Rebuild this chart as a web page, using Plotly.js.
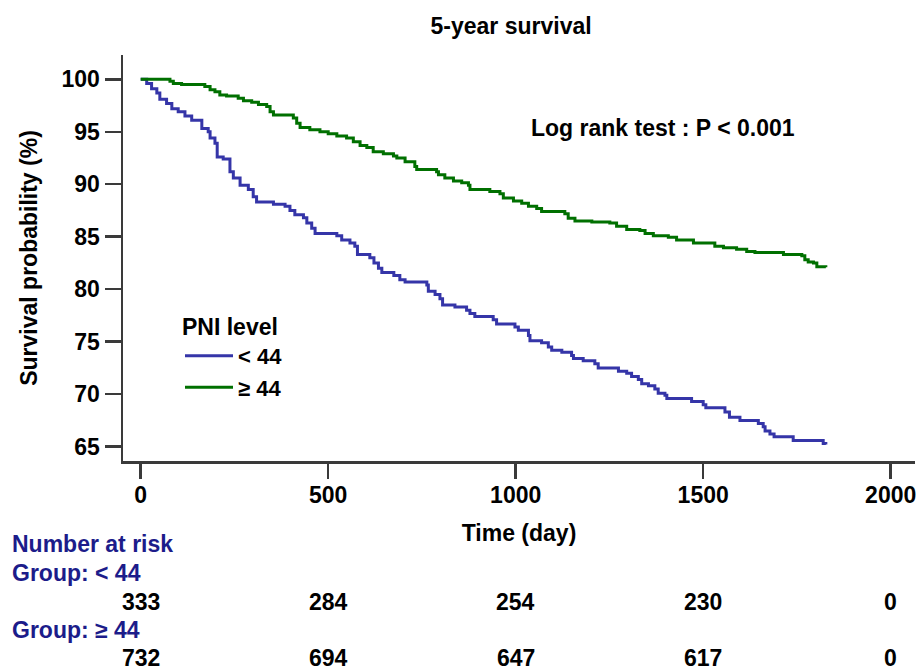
<!DOCTYPE html>
<html>
<head>
<meta charset="utf-8">
<script src="https://cdn.plot.ly/plotly-3.0.1.min.js"></script>
<style>html,body{margin:0;padding:0;background:#fff;}#chart{width:919px;height:670px;}</style>
</head>
<body>
<div id="chart"></div>
<script>
// Kaplan-Meier step points (day, survival %)
var lowTimes = [0,16,29,43,51,69,83,100,118,136,163,180,185,198,204,220,238,247,265,287,300,309,354,385,398,411,434,443,456,465,523,536,558,571,578,611,622,634,643,675,691,705,763,767,785,798,805,838,869,878,891,940,949,998,1007,1034,1038,1069,1087,1096,1123,1149,1154,1180,1211,1220,1274,1296,1309,1327,1336,1354,1371,1380,1398,1403,1469,1500,1507,1558,1570,1598,1647,1660,1665,1678,1689,1740,1820,1827];
var lowSurv = [100,99.6,99.1,98.7,98.1,97.7,97.2,96.9,96.5,96.1,95.3,95.0,94.4,93.9,92.6,92.4,91.2,90.6,89.9,89.5,88.8,88.3,88.1,87.9,87.5,87.1,86.8,86.3,85.8,85.3,85.1,84.7,84.4,84.1,83.3,83.0,82.5,82.0,81.6,81.3,80.9,80.7,80.4,79.8,79.5,79.1,78.5,78.3,78.0,77.7,77.4,77.1,76.7,76.4,76.1,75.6,75.1,74.9,74.5,74.2,74.0,73.7,73.4,73.2,72.9,72.5,72.2,72.0,71.7,71.4,71.0,70.8,70.5,70.1,69.9,69.6,69.3,69.0,68.7,68.3,67.8,67.5,67.2,66.9,66.5,66.2,65.95,65.6,65.3,65.2];

var highTimes = [0,78,87,109,171,185,198,211,229,260,274,296,314,336,345,354,407,416,425,451,478,500,523,549,567,585,603,620,647,674,683,705,731,736,789,794,811,834,856,874,878,931,958,967,994,1016,1034,1056,1069,1131,1140,1158,1203,1251,1269,1296,1331,1345,1367,1407,1429,1474,1531,1554,1589,1616,1638,1714,1763,1771,1780,1794,1803,1827];
var highSurv = [100,99.8,99.6,99.5,99.3,99.0,98.8,98.5,98.4,98.2,97.96,97.8,97.6,97.4,96.9,96.6,96.3,95.8,95.4,95.2,95.0,94.8,94.6,94.4,94.05,93.7,93.5,93.1,92.9,92.7,92.5,92.15,91.7,91.4,91.2,90.9,90.6,90.3,90.15,89.9,89.5,89.3,89.1,88.7,88.4,88.2,87.9,87.7,87.4,87.2,86.75,86.5,86.4,86.3,86.0,85.7,85.6,85.3,85.1,84.95,84.7,84.4,84.1,83.95,83.8,83.6,83.5,83.3,83.2,82.8,82.6,82.5,82.15,82.1];

var groupNames = ['< 44', '\u2265 44'];
var xTicks = [0, 500, 1000, 1500, 2000];
var yTicks = [65, 70, 75, 80, 85, 90, 95, 100];
var riskTimes = [0, 500, 1000, 1500, 2000];
var riskLow = [333, 284, 254, 230, 0];
var riskHigh = [732, 694, 647, 617, 0];

var FONT = 'Liberation Sans, Arial, sans-serif';
var FS = 23;
var BLUE = '#3535a8';
var GREEN = '#007000';
var NAVY = '#1c1c8a';
var AX = '#3a3a3a';

var traces = [
  {x: lowTimes, y: lowSurv, type: 'scatter', mode: 'lines', name: groupNames[0],
   line: {shape: 'hv', color: BLUE, width: 3}},
  {x: highTimes, y: highSurv, type: 'scatter', mode: 'lines', name: groupNames[1],
   line: {shape: 'hv', color: GREEN, width: 3}}
];

var ann = [];
ann.push({xref: 'x', yref: 'y', x: 1392, y: 95.36, text: 'Log rank test : P < 0.001', showarrow: false,
  xanchor: 'center', yanchor: 'middle', font: {family: FONT, size: FS, color: '#000', weight: 'bold'}});

function paperY(py) { return (461 - py) / 406; }
function label(text, py, color) {
  ann.push({xref: 'paper', yref: 'paper', x: (10 - 123) / 792, y: paperY(py), text: text, showarrow: false,
    xanchor: 'left', yanchor: 'middle', font: {family: FONT, size: FS, color: color, weight: 'bold'}});
}
label('Number at risk', 544, NAVY);
label('Group: ' + groupNames[0], 573, NAVY);
label('Group: ' + groupNames[1], 630, NAVY);
function riskRow(vals, py) {
  for (var i = 0; i < riskTimes.length; i++) {
    ann.push({xref: 'x', yref: 'paper', x: riskTimes[i], y: paperY(py), text: String(vals[i]), showarrow: false,
      xanchor: 'center', yanchor: 'middle', font: {family: FONT, size: FS, color: '#000', weight: 'bold'}});
  }
}
riskRow(riskLow, 602);
riskRow(riskHigh, 658);

var layout = {
  width: 919, height: 670,
  margin: {l: 123, r: 4, t: 55, b: 209, pad: 0},
  paper_bgcolor: '#fff', plot_bgcolor: '#fff',
  font: {family: FONT, color: '#000'},
  title: {text: '5-year survival', x: 0.49, xref: 'paper', xanchor: 'center', y: 1 - 26 / 670, yref: 'container', yanchor: 'middle',
    font: {family: FONT, size: FS, color: '#000', weight: 'bold'}},
  xaxis: {range: [-47.2, 2064.8], tickvals: xTicks, ticktext: xTicks.map(String), ticks: 'outside', ticklen: 15, tickwidth: 2.5, tickcolor: AX,
    ticklabelstandoff: -3,
    showline: true, linewidth: 2.5, linecolor: AX, showgrid: false, zeroline: false, fixedrange: true,
    tickfont: {family: FONT, size: FS, color: '#000', weight: 'bold'},
    title: {text: 'Time (day)', standoff: 18, font: {family: FONT, size: FS, color: '#000', weight: 'bold'}}},
  yaxis: {range: [63.64, 102.31], tickvals: yTicks, ticktext: yTicks.map(String), ticks: 'outside', ticklen: 16, tickwidth: 2.5, tickcolor: AX,
    showline: true, linewidth: 2.5, linecolor: AX, showgrid: false, zeroline: false, fixedrange: true,
    tickfont: {family: FONT, size: FS, color: '#000', weight: 'bold'},
    title: {text: 'Survival probability (%)', standoff: 18, font: {family: FONT, size: FS, color: '#000', weight: 'bold'}}},
  showlegend: true,
  legend: {x: (180 - 123) / 792, y: paperY(305), xanchor: 'left', yanchor: 'top', bgcolor: 'rgba(0,0,0,0)', borderwidth: 0,
    itemwidth: 48, tracegroupgap: 0,
    title: {text: 'PNI level', font: {family: FONT, size: FS, color: '#000', weight: 'bold'}},
    font: {family: FONT, size: 22, color: '#000', weight: 'bold'}},
  annotations: ann
};

Plotly.newPlot('chart', traces, layout, {displayModeBar: false, staticPlot: true});
</script>
</body>
</html>
